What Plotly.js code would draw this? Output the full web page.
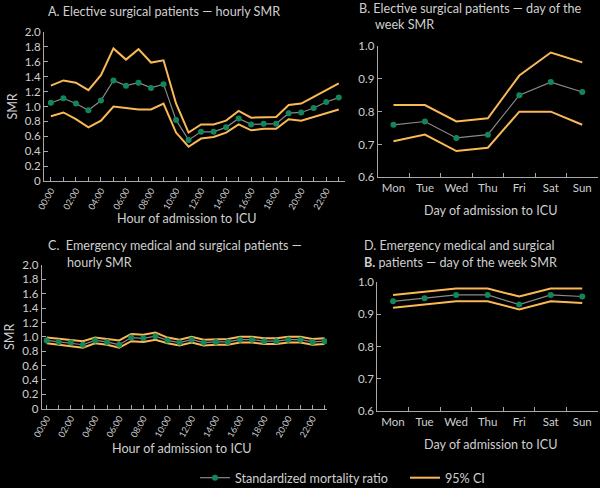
<!DOCTYPE html>
<html>
<head>
<meta charset="utf-8">
<script src="https://cdn.plot.ly/plotly-3.0.1.min.js"></script>
<style>html,body{margin:0;padding:0;background:#000;}#chart{width:600px;height:488px;}</style>
</head>
<body>
<div id="chart"></div>
<script>
// ---- Data ----
var hours = ["00:00","01:00","02:00","03:00","04:00","05:00","06:00","07:00","08:00","09:00","10:00","11:00",
             "12:00","13:00","14:00","15:00","16:00","17:00","18:00","19:00","20:00","21:00","22:00","23:00"];
var hourTickText = ["00:00","","02:00","","04:00","","06:00","","08:00","","10:00","",
                    "12:00","","14:00","","16:00","","18:00","","20:00","","22:00",""];
var days = ["Mon","Tue","Wed","Thu","Fri","Sat","Sun"];

// A. Elective surgical – hourly
var smrA   = [1.05,1.11,1.04,0.95,1.08,1.35,1.28,1.32,1.25,1.30,0.82,0.55,0.66,0.66,0.72,0.84,0.76,0.77,0.77,0.91,0.92,0.98,1.06,1.12];
var upperA = [1.28,1.35,1.32,1.22,1.42,1.78,1.63,1.77,1.59,1.62,1.04,0.65,0.76,0.76,0.81,0.94,0.85,0.86,0.86,1.02,1.04,1.13,1.22,1.31];
var lowerA = [0.87,0.92,0.83,0.72,0.81,1.00,0.98,0.96,0.96,1.04,0.65,0.46,0.57,0.59,0.65,0.76,0.68,0.70,0.70,0.83,0.81,0.86,0.91,0.96];

// B. Elective surgical – day of week
var smrB   = [0.76,0.77,0.72,0.73,0.85,0.89,0.86];
var upperB = [0.82,0.82,0.77,0.78,0.91,0.98,0.95];
var lowerB = [0.71,0.73,0.68,0.69,0.80,0.80,0.76];

// C. Emergency medical and surgical – hourly
var smrC   = [0.95,0.93,0.92,0.89,0.95,0.93,0.89,0.99,0.98,1.01,0.95,0.92,0.96,0.92,0.93,0.93,0.96,0.96,0.94,0.94,0.96,0.96,0.93,0.94];
var upperC = [0.99,0.97,0.96,0.94,0.99,0.97,0.95,1.04,1.03,1.06,0.99,0.96,1.00,0.96,0.97,0.97,1.00,1.00,0.98,0.98,1.00,1.00,0.97,0.98];
var lowerC = [0.91,0.89,0.88,0.85,0.91,0.89,0.85,0.94,0.93,0.96,0.91,0.88,0.92,0.88,0.89,0.89,0.92,0.92,0.90,0.90,0.92,0.92,0.89,0.90];

// D. Emergency medical and surgical – day of week
var smrD   = [0.94,0.95,0.96,0.96,0.93,0.96,0.955];
var upperD = [0.96,0.97,0.98,0.98,0.955,0.98,0.98];
var lowerD = [0.92,0.93,0.94,0.94,0.915,0.94,0.935];

var yTicksHour = [0,0.2,0.4,0.6,0.8,1.0,1.2,1.4,1.6,1.8,2.0];
var yTextHour  = ["0","0.2","0.4","0.6","0.8","1.0","1.2","1.4","1.6","1.8","2.0"];
var yTicksDay  = [0.6,0.7,0.8,0.9,1.0];
var yTextDay   = ["0.6","0.7","0.8","0.9","1.0"];

// ---- Styles ----
var TXT = '#cfcfcf', AX = '#a8a8a8', ORANGE = '#fbb955', GREEN = '#12865a', GREYLINE = '#8a8a8a';
var FONT = 'Lato, "Open Sans", sans-serif';

function panel(x, smr, up, lo, xa, ya, legend) {
  return [
    {x:x, y:up, xaxis:xa, yaxis:ya, type:'scatter', mode:'lines', name:'95% CI', legend:'legend2',
     line:{color:ORANGE, width:2}, showlegend:legend, hoverinfo:'skip'},
    {x:x, y:lo, xaxis:xa, yaxis:ya, type:'scatter', mode:'lines', name:'95% CI', legend:'legend2',
     line:{color:ORANGE, width:2}, showlegend:false, hoverinfo:'skip'},
    {x:x, y:smr, xaxis:xa, yaxis:ya, type:'scatter', mode:'lines+markers', name:'Standardized mortality ratio',
     legend:'legend', line:{color:GREYLINE, width:1.2}, marker:{color:GREEN, size:6}, showlegend:legend}
  ];
}

var data = [].concat(
  panel(hours, smrA, upperA, lowerA, 'x', 'y', true),
  panel(days, smrB, upperB, lowerB, 'x2', 'y2', false),
  panel(hours, smrC, upperC, lowerC, 'x3', 'y3', false),
  panel(days, smrD, upperD, lowerD, 'x4', 'y4', false)
);

function hourX(domain, range, anchor) {
  return {domain:domain, anchor:anchor, type:'category', range:range,
    tickmode:'array', tickvals:hours, ticktext:hourTickText, tickangle:-60,
    ticks:'inside', ticklen:4, tickcolor:AX, tickwidth:1,
    showline:true, linecolor:AX, linewidth:1, showgrid:false, zeroline:false,
    tickfont:{size:9, color:TXT, family:FONT}};
}
function dayX(domain, anchor) {
  return {domain:domain, anchor:anchor, type:'category', range:[-0.5,6.5],
    tickson:'boundaries', ticks:'inside', ticklen:4, tickcolor:AX, tickwidth:1, tickangle:0,
    showline:true, linecolor:AX, linewidth:1, showgrid:false, zeroline:false,
    tickfont:{size:11.5, color:TXT, family:FONT}};
}
function hourY(domain, anchor) {
  return {domain:domain, anchor:anchor, range:[0,2], tickmode:'array', tickvals:yTicksHour, ticktext:yTextHour,
    ticks:'inside', ticklen:4, tickcolor:AX, showline:true, linecolor:AX, linewidth:1,
    showgrid:false, zeroline:false, tickfont:{size:11.5, color:TXT, family:FONT},
    title:{text:'SMR', font:{size:12.5, color:TXT, family:FONT}, standoff:4}};
}
function dayY(domain, anchor) {
  return {domain:domain, anchor:anchor, range:[0.6,1.0], tickmode:'array', tickvals:yTicksDay, ticktext:yTextDay,
    ticks:'inside', ticklen:4, tickcolor:AX, showline:true, linecolor:AX, linewidth:1,
    showgrid:false, zeroline:false, tickfont:{size:11.5, color:TXT, family:FONT}};
}

function ann(text, px, py, anchor, size) {
  return {text:text, xref:'paper', yref:'paper', x:px/600, y:1-py/488, xanchor:anchor || 'left', yanchor:'middle',
    showarrow:false, font:{size:size || 12.6, color:TXT, family:FONT}};
}

var layout = {
  width:600, height:488, margin:{l:0, r:0, t:0, b:0, autoexpand:false},
  paper_bgcolor:'#000', plot_bgcolor:'#000',
  font:{family:FONT, color:TXT},
  xaxis:  hourX([44/600, 345/600], [-0.55, 23.5], 'y'),
  yaxis:  hourY([1-181/488, 1-32/488], 'x'),
  xaxis2: dayX([377.7/600, 598/600], 'y2'),
  yaxis2: dayY([1-177.3/488, 1-46/488], 'x2'),
  xaxis3: hourX([41.7/600, 327/600], [-0.41, 23.2], 'y3'),
  yaxis3: hourY([1-408.7/488, 1-265/488], 'x3'),
  xaxis4: dayX([377.3/600, 598/600], 'y4'),
  yaxis4: dayY([1-411/488, 1-282/488], 'x4'),
  showlegend:true,
  legend:{orientation:'h', x:195/600, y:1-478/488, xanchor:'left', yanchor:'middle',
    font:{size:12.6, color:TXT, family:FONT}, bgcolor:'rgba(0,0,0,0)', itemwidth:30},
  legend2:{orientation:'h', x:405/600, y:1-478/488, xanchor:'left', yanchor:'middle',
    font:{size:12.6, color:TXT, family:FONT}, bgcolor:'rgba(0,0,0,0)', itemwidth:30},
  annotations:[
    ann('A. Elective surgical patients — hourly SMR', 46, 11),
    ann('B. Elective surgical patients — day of the', 357, 8),
    ann('week SMR', 373, 24),
    ann('C.  Emergency medical and surgical patients —', 46, 246),
    ann('hourly SMR', 65, 262),
    ann('D. Emergency medical and surgical', 362, 245),
    ann('<b>B.</b> patients — day of the week SMR', 362, 262),
    ann('Hour of admission to ICU', 187, 218, 'center'),
    ann('Day of admission to ICU', 490, 211, 'center'),
    ann('Hour of admission to ICU', 182, 448, 'center'),
    ann('Day of admission to ICU', 490, 444, 'center')
  ]
};

Plotly.newPlot('chart', data, layout, {displayModeBar:false, staticPlot:true});
</script>
</body>
</html>
